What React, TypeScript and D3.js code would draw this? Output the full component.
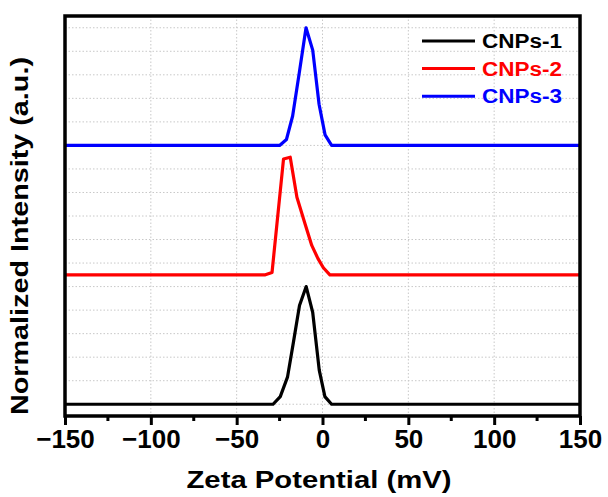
import React, { useRef, useEffect } from 'react';
import * as d3 from 'd3';

// zeta potential (mV) vs normalized intensity
const cnps1 = [
  [-150, 0], [-28.8, 0], [-24.6, 0.065], [-20.4, 0.23], [-16.9, 0.53], [-13.4, 0.84],
  [-9.5, 1.0], [-5.7, 0.78], [-1.9, 0.29], [1.4, 0.065], [5.3, 0], [150, 0],
];
const cnps2 = [
  [-150, 0], [-33.3, 0], [-29.4, 0.02], [-22.7, 0.985], [-18.8, 1.0], [-14.9, 0.66],
  [-10.1, 0.43], [-6.25, 0.25], [-2.7, 0.14], [0.5, 0.06], [4.3, 0], [150, 0],
];
const cnps3 = [
  [-150, 0], [-25, 0], [-21, 0.05], [-17.4, 0.25], [-13.5, 0.62], [-9.6, 1.0],
  [-5.7, 0.81], [-2, 0.35], [1.5, 0.09], [5.3, 0], [150, 0],
];

const seriesNames = ['CNPs-1', 'CNPs-2', 'CNPs-3'];
const seriesData = [cnps1, cnps2, cnps3];
const seriesOffsets = [0, 1.1, 2.2];
const seriesColors = ['#000000', '#ff0000', '#0000ff'];

const xTicks = [-150, -100, -50, 0, 50, 100, 150];
const xMinorTicks = [-125, -75, -25, 25, 75, 125];
const xGrid = [-100, -50, 0, 50, 100];
const yGrid = [0, 0.2, 0.4, 0.6, 0.8, 1.0, 1.2, 1.4, 1.6, 1.8, 2.0, 2.2, 2.4, 2.6, 2.8, 3.0, 3.2];

const App = () => {
  const ref = useRef<SVGSVGElement>(null);

  useEffect(() => {
    const svg = d3.select(ref.current)
      .attr('width', 608)
      .attr('height', 497);
    svg.selectAll('*').remove();

    const left = 65, right = 580, top = 16, bottom = 416;
    const font = 'Liberation Sans, Arial, sans-serif';

    const x = d3.scaleLinear().domain([-150, 150]).range([left, right]);
    const y = d3.scaleLinear().domain([-0.1, 3.3]).range([bottom, top]);

    // dotted grid
    const grid = svg.append('g')
      .attr('stroke', '#c8c8c8')
      .attr('stroke-width', 1)
      .attr('stroke-dasharray', '1.5,2');
    grid.selectAll('.gx').data(xGrid).enter().append('line')
      .attr('x1', d => x(d)).attr('x2', d => x(d))
      .attr('y1', top).attr('y2', bottom);
    grid.selectAll('.gy').data(yGrid).enter().append('line')
      .attr('x1', left).attr('x2', right)
      .attr('y1', d => y(d)).attr('y2', d => y(d));

    // curves
    const line = d3.line<number[]>()
      .x(d => x(d[0]));
    seriesData.forEach((data, i) => {
      svg.append('path')
        .datum(data)
        .attr('fill', 'none')
        .attr('stroke', seriesColors[i])
        .attr('stroke-width', 3.2)
        .attr('stroke-linejoin', 'round')
        .attr('d', line.y(d => y(d[1] + seriesOffsets[i])));
    });

    // frame
    svg.append('rect')
      .attr('x', left).attr('y', top)
      .attr('width', right - left).attr('height', bottom - top)
      .attr('fill', 'none')
      .attr('stroke', '#000')
      .attr('stroke-width', 3.5);

    // bottom axis
    const xAxis = d3.axisBottom(x)
      .tickValues(xTicks)
      .tickSize(9)
      .tickPadding(5);
    const ax = svg.append('g')
      .attr('transform', `translate(0,${bottom})`)
      .call(xAxis);
    ax.select('.domain').remove();
    ax.selectAll('line').attr('stroke-width', 3);
    ax.selectAll('text')
      .attr('font-family', font)
      .attr('font-weight', 'bold')
      .attr('font-size', 26)
      .attr('fill', '#000');
    ax.selectAll('.minor').data(xMinorTicks).enter().append('line')
      .attr('x1', d => x(d)).attr('x2', d => x(d))
      .attr('y1', 0).attr('y2', 5)
      .attr('stroke', '#000').attr('stroke-width', 3);

    // axis titles
    svg.append('text')
      .attr('x', 319).attr('y', 488)
      .attr('text-anchor', 'middle')
      .attr('font-family', font)
      .attr('font-weight', 'bold')
      .attr('font-size', 24)
      .attr('textLength', 265)
      .attr('lengthAdjust', 'spacingAndGlyphs')
      .text('Zeta Potential (mV)');

    svg.append('text')
      .attr('transform', 'translate(28,236) rotate(-90)')
      .attr('text-anchor', 'middle')
      .attr('font-family', font)
      .attr('font-weight', 'bold')
      .attr('font-size', 23)
      .attr('textLength', 358)
      .attr('lengthAdjust', 'spacingAndGlyphs')
      .text('Normalized Intensity (a.u.)');

    // legend
    const legend = svg.append('g');
    seriesNames.forEach((name, i) => {
      const ly = 41 + i * 27.6;
      legend.append('line')
        .attr('x1', 422).attr('x2', 475)
        .attr('y1', ly).attr('y2', ly)
        .attr('stroke', seriesColors[i])
        .attr('stroke-width', 3);
      legend.append('text')
        .attr('x', 482).attr('y', ly)
        .attr('dy', '0.36em')
        .attr('font-family', font)
        .attr('font-weight', 'bold')
        .attr('font-size', 20)
        .attr('textLength', 80)
        .attr('lengthAdjust', 'spacingAndGlyphs')
        .attr('fill', seriesColors[i])
        .text(name);
    });
  }, []);

  return <svg ref={ref} style={{ position: 'absolute', left: 0, top: 0 }}></svg>;
};

export default App;
